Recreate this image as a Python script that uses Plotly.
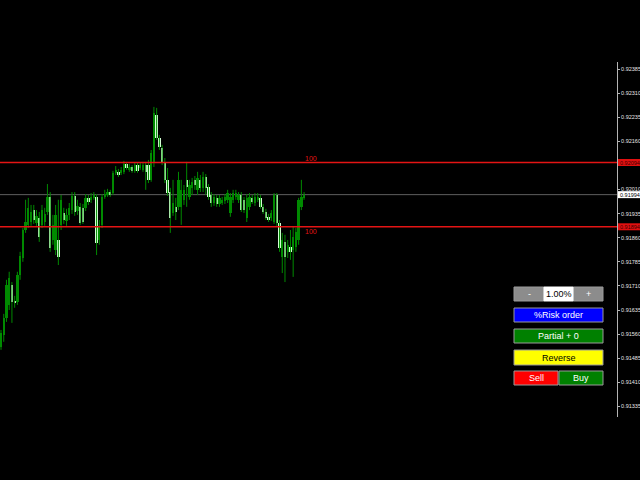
import plotly.graph_objects as go

# ---------------- data ----------------
open_ = [0.91520, 0.91557, 0.91610, 0.91651, 0.91713, 0.91663, 0.91660, 0.91744, 0.91797, 0.91884,
         0.91900, 0.91909, 0.91946, 0.91906, 0.91922, 0.91900, 0.91909, 0.91940, 0.91987, 0.91853,
         0.91822, 0.91853, 0.91900, 0.91937, 0.91912, 0.91931, 0.91946, 0.91990, 0.91943, 0.91956,
         0.91953, 0.91953, 0.91984, 0.91978, 0.91984, 0.91987, 0.91853, 0.91900, 0.91987, 0.91993,
         0.92002, 0.91999, 0.92062, 0.92065, 0.92062, 0.92065, 0.92090, 0.92071, 0.92080, 0.92068,
         0.92086, 0.92077, 0.92071, 0.92086, 0.92086, 0.92040, 0.92093, 0.92242, 0.92170, 0.92139,
         0.92096, 0.92040, 0.92002, 0.91937, 0.91956, 0.91956, 0.91956, 0.91978, 0.92040, 0.91987,
         0.92015, 0.92040, 0.92009, 0.92040, 0.92015, 0.92049, 0.92018, 0.91993, 0.91968, 0.91984,
         0.91965, 0.91968, 0.91974, 0.91978, 0.91937, 0.91978, 0.91987, 0.91978, 0.91993, 0.91978,
         0.91922, 0.91956, 0.91984, 0.91968, 0.91978, 0.91984, 0.91956, 0.91940, 0.91925, 0.91922,
         0.91909, 0.91993, 0.91906, 0.91800, 0.91847, 0.91816, 0.91831, 0.91822, 0.91831, 0.91853,
         0.91956, 0.91984]
high = [0.91573, 0.91623, 0.91729, 0.91754, 0.91722, 0.91679, 0.91754, 0.91816, 0.91890, 0.91978,
        0.91984, 0.91962, 0.91962, 0.91946, 0.91940, 0.91962, 0.91953, 0.92027, 0.92002, 0.91931,
        0.91962, 0.91978, 0.91993, 0.91953, 0.91950, 0.91968, 0.92002, 0.92002, 0.91978, 0.91968,
        0.91965, 0.91996, 0.91993, 0.91999, 0.92002, 0.91996, 0.91915, 0.91996, 0.92009, 0.92012,
        0.92009, 0.92068, 0.92083, 0.92074, 0.92080, 0.92099, 0.92096, 0.92090, 0.92086, 0.92093,
        0.92093, 0.92093, 0.92096, 0.92096, 0.92102, 0.92133, 0.92267, 0.92264, 0.92180, 0.92149,
        0.92108, 0.92077, 0.92015, 0.92040, 0.91984, 0.92065, 0.92040, 0.92024, 0.92096, 0.92040,
        0.92046, 0.92052, 0.92065, 0.92055, 0.92065, 0.92058, 0.92027, 0.92002, 0.91996, 0.91993,
        0.91993, 0.91987, 0.91996, 0.92009, 0.91999, 0.92009, 0.92009, 0.92002, 0.92002, 0.91987,
        0.91996, 0.91999, 0.91993, 0.91999, 0.91999, 0.91993, 0.91965, 0.91950, 0.91934, 0.91946,
        0.91999, 0.91999, 0.91915, 0.91875, 0.91869, 0.91853, 0.91884, 0.91894, 0.91890, 0.91984,
        0.92040, 0.92002]
low = [0.91511, 0.91536, 0.91598, 0.91635, 0.91595, 0.91642, 0.91651, 0.91729, 0.91785, 0.91875,
       0.91890, 0.91897, 0.91903, 0.91897, 0.91847, 0.91890, 0.91897, 0.91931, 0.91816, 0.91838,
       0.91806, 0.91775, 0.91884, 0.91903, 0.91897, 0.91915, 0.91934, 0.91928, 0.91931, 0.91900,
       0.91903, 0.91943, 0.91962, 0.91968, 0.91978, 0.91806, 0.91838, 0.91890, 0.91981, 0.91987,
       0.91987, 0.91993, 0.92055, 0.92049, 0.92055, 0.92058, 0.92071, 0.92065, 0.92062, 0.92062,
       0.92062, 0.92071, 0.92065, 0.92009, 0.92030, 0.92034, 0.92080, 0.92164, 0.92133, 0.92086,
       0.92030, 0.91990, 0.91875, 0.91928, 0.91915, 0.91946, 0.91900, 0.91962, 0.91956, 0.91978,
       0.91993, 0.92009, 0.91993, 0.92002, 0.92002, 0.91993, 0.91978, 0.91956, 0.91959, 0.91956,
       0.91956, 0.91962, 0.91965, 0.91968, 0.91925, 0.91968, 0.91978, 0.91968, 0.91940, 0.91937,
       0.91909, 0.91946, 0.91965, 0.91959, 0.91971, 0.91950, 0.91934, 0.91915, 0.91909, 0.91912,
       0.91903, 0.91897, 0.91816, 0.91750, 0.91722, 0.91797, 0.91791, 0.91738, 0.91816, 0.91838,
       0.91946, 0.91978]
close = [0.91564, 0.91610, 0.91713, 0.91735, 0.91660, 0.91657, 0.91744, 0.91803, 0.91884, 0.91909,
         0.91953, 0.91940, 0.91915, 0.91928, 0.91862, 0.91946, 0.91934, 0.91987, 0.91828, 0.91900,
         0.91931, 0.91800, 0.91978, 0.91915, 0.91931, 0.91953, 0.91990, 0.91940, 0.91959, 0.91906,
         0.91909, 0.91984, 0.91971, 0.91987, 0.91993, 0.91844, 0.91894, 0.91987, 0.91996, 0.92002,
         0.91993, 0.92062, 0.92071, 0.92055, 0.92071, 0.92090, 0.92077, 0.92080, 0.92068, 0.92086,
         0.92068, 0.92086, 0.92086, 0.92065, 0.92040, 0.92124, 0.92248, 0.92170, 0.92142, 0.92096,
         0.92040, 0.91999, 0.91922, 0.91968, 0.91940, 0.92040, 0.92009, 0.92009, 0.92018, 0.92024,
         0.92034, 0.92024, 0.92046, 0.92015, 0.92049, 0.92015, 0.91987, 0.91968, 0.91987, 0.91965,
         0.91984, 0.91978, 0.91987, 0.91999, 0.91987, 0.91999, 0.91999, 0.91993, 0.91946, 0.91946,
         0.91984, 0.91987, 0.91971, 0.91987, 0.91987, 0.91956, 0.91940, 0.91922, 0.91915, 0.91937,
         0.91993, 0.91906, 0.91828, 0.91853, 0.91800, 0.91838, 0.91816, 0.91862, 0.91878, 0.91978,
         0.91987, 0.91994]

tick_prices = [0.92385, 0.92310, 0.92235, 0.92160, 0.92010, 0.91935, 0.91860,
               0.91785, 0.91710, 0.91635, 0.91560, 0.91485, 0.91410, 0.91335]
level_prices = [0.92094, 0.91894]
level_labels = ["100", "100"]
bid_price = 0.91994
risk_text = "1.00%"
button_labels = ["%Risk order", "Partial + 0", "Reverse", "Sell", "Buy"]

# ---------------- layout constants ----------------
W, H = 640, 480
PLOT_R = 617        # right edge of plot area (price axis line)
PLOT_T = 62         # top of price axis line
PLOT_B = 417        # bottom edge of plot area
PPX = 0.00003112    # price per pixel
Y_TOP = 0.92385 + (69 - PLOT_T) * PPX
Y_BOT = Y_TOP - (PLOT_B - PLOT_T) * PPX
X_LO, X_HI = -0.37, 225.6

WICK = "#008a00"
BULL = "#008a00"
BEAR = "#d2ffd2"


def px(x):
    return x / PLOT_R


def py(y):
    return 1 - (y - PLOT_T) / (PLOT_B - PLOT_T)


idx = list(range(len(close)))

wx, wy = [], []
for i in idx:
    wx += [i, i, None]
    wy += [low[i], high[i], None]

base = [min(o, c) for o, c in zip(open_, close)]
height = [max(abs(c - o), 0.00003) for o, c in zip(open_, close)]
colors = [BULL if c >= o else BEAR for o, c in zip(open_, close)]

fig = go.Figure()
fig.add_trace(go.Scatter(x=wx, y=wy, mode="lines", line=dict(color=WICK, width=1),
                         hoverinfo="skip", showlegend=False, cliponaxis=False))
fig.add_trace(go.Bar(x=idx, y=height, base=base, width=0.85,
                     marker=dict(color=colors, line=dict(width=0)),
                     hoverinfo="skip", showlegend=False))

shapes = []
# bid line
shapes.append(dict(type="line", xref="paper", yref="y", x0=0, x1=1, y0=bid_price, y1=bid_price,
                   line=dict(color="#5e5e5e", width=1), layer="below"))
# red level lines
for lp in level_prices:
    shapes.append(dict(type="line", xref="paper", yref="y", x0=0, x1=1, y0=lp, y1=lp,
                       line=dict(color="#e41414", width=1.4)))

annotations = []
font_fam = "Liberation Sans, Arial, sans-serif"
# price tags on the axis
for lp, bg, fg in [(level_prices[0], "#e01010", "#3a0000"), (level_prices[1], "#e01010", "#3a0000"),
                   (bid_price, "#ffffff", "#000000")]:
    shapes.append(dict(type="rect", xref="paper", yref="y", x0=(PLOT_R + 1) / PLOT_R, x1=W / PLOT_R,
                       y0=lp - 3.5 * PPX, y1=lp + 3.5 * PPX,
                       fillcolor=bg, line=dict(width=0)))
    annotations.append(dict(xref="paper", yref="y", x=(PLOT_R + 2) / PLOT_R, y=lp, xanchor="left",
                            yanchor="middle", text=f"{lp:.5f}", showarrow=False, borderpad=0,
                            font=dict(family=font_fam, size=5.5, color=fg)))

# "100" labels
annotations.append(dict(xref="paper", yref="y", x=px(311), y=level_prices[0], yanchor="bottom",
                        text=level_labels[0], showarrow=False, borderpad=0,
                        font=dict(family=font_fam, size=7, color="#e41414")))
annotations.append(dict(xref="paper", yref="y", x=px(311), y=level_prices[1], yanchor="top",
                        text=level_labels[1], showarrow=False, borderpad=0,
                        font=dict(family=font_fam, size=7, color="#e41414")))


def button(x0, y0, x1, y1, fill, text, tcolor, border="#9a9a9a"):
    shapes.append(dict(type="rect", xref="paper", yref="paper", x0=px(x0), x1=px(x1),
                       y0=py(y1), y1=py(y0), fillcolor=fill, line=dict(color=border, width=1)))
    if text:
        annotations.append(dict(xref="paper", yref="paper", x=px((x0 + x1) / 2), y=py((y0 + y1) / 2),
                                text=text, showarrow=False, xanchor="center", yanchor="middle",
                                font=dict(family=font_fam, size=9, color=tcolor)))


button(514, 287, 544, 301, "#8c8c8c", "-", "#ffffff")
button(573, 287, 603, 301, "#8c8c8c", "+", "#ffffff")
button(544, 287, 573, 301, "#ffffff", risk_text, "#000000", border="#ffffff")
button(514, 308, 603, 322, "#0000ff", button_labels[0], "#ffffff")
button(514, 329, 603, 343, "#008000", button_labels[1], "#ffffff")
button(514, 350, 603, 365, "#ffff00", button_labels[2], "#000000")
button(514, 371, 558, 385, "#ff0000", button_labels[3], "#ffffff")
button(559, 371, 603, 385, "#008000", button_labels[4], "#ffffff")

fig.update_layout(
    width=W, height=H,
    margin=dict(l=0, r=W - PLOT_R, t=PLOT_T, b=H - PLOT_B),
    paper_bgcolor="#000000", plot_bgcolor="#000000",
    showlegend=False, bargap=0,
    shapes=shapes, annotations=annotations,
    xaxis=dict(range=[X_LO, X_HI], visible=False, fixedrange=True),
    yaxis=dict(range=[Y_BOT, Y_TOP], side="right", showgrid=False, zeroline=False,
               showline=True, linecolor="#b4b4b4", linewidth=1,
               ticks="outside", ticklen=2, tickcolor="#b4b4b4",
               tickvals=tick_prices, ticktext=[f"{t:.5f}" for t in tick_prices],
               tickfont=dict(family=font_fam, size=5.5, color="#e6e6e6")),
)

fig.write_html("out.html", config={"displayModeBar": False},
               post_script="document.body.style.margin='0';document.body.style.background='#000';")
